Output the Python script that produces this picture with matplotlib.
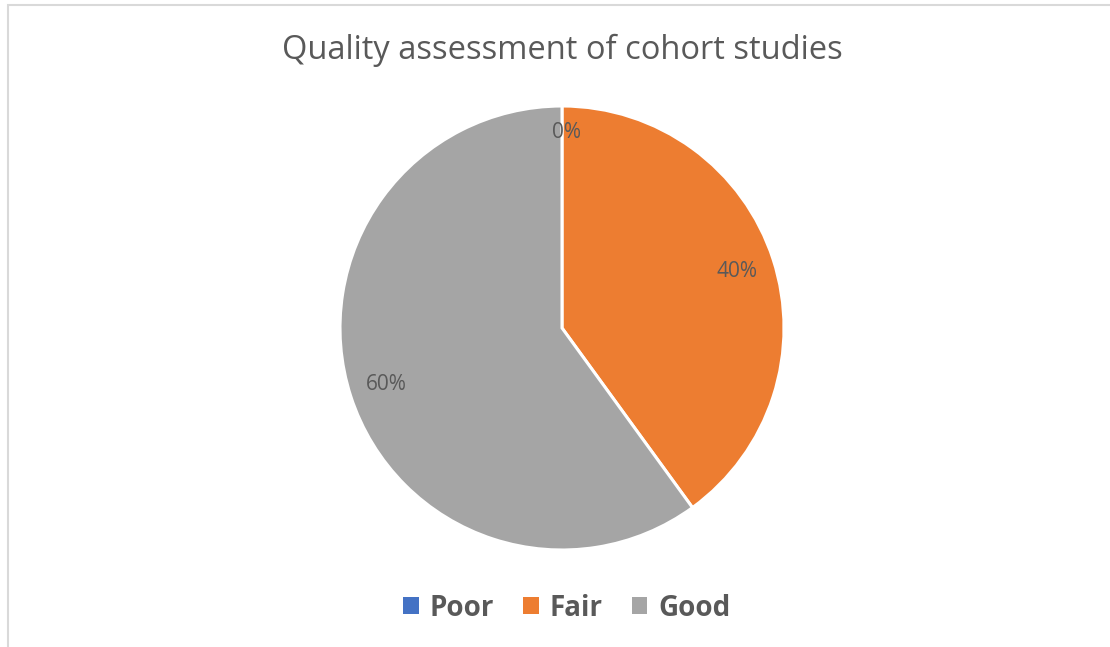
"""Pie chart: quality assessment of cohort studies."""

import matplotlib.pyplot as plt
from matplotlib.patches import Patch, Rectangle

categories = ["Poor", "Fair", "Good"]
shares = [0, 40, 60]
colors = ["#4472C4", "#ED7D31", "#A5A5A5"]

TXT = "#595959"
W, H = 1110, 647

plt.rcParams["font.family"] = ["Open Sans", "DejaVu Sans"]

fig = plt.figure(figsize=(W / 100, H / 100), dpi=100)

# pie centred at (562, 328) px, radius 222 px
cx, cy, r = 562, 328, 222
ax = fig.add_axes([(cx - r) / W, (H - cy - r) / H, 2 * r / W, 2 * r / H])
wedges, texts, autotexts = ax.pie(
    shares, colors=colors, startangle=90, counterclock=False,
    autopct="%1.0f%%", pctdistance=0.83,
    wedgeprops=dict(edgecolor="white", linewidth=2.2, clip_on=False),
    textprops=dict(color=TXT, fontsize=15),
)
ax.set_xlim(-1, 1)
ax.set_ylim(-1, 1)
ax.set_aspect("equal")
# the zero slice label sits a bit higher in the original
x0, y0 = autotexts[0].get_position()
autotexts[0].set_position((x0 + 0.02, y0 + 0.05))

fig.text(cx / W, 1 - 50 / H, "Quality assessment of cohort studies",
         ha="center", va="center", fontsize=23.5, color=TXT)

handles = [Patch(facecolor=c, edgecolor="none", label=n)
           for c, n in zip(colors, categories)]
leg = fig.legend(handles=handles, loc="center", bbox_to_anchor=(567 / W, 1 - 608 / H),
                 ncol=3, frameon=False, handlelength=0.55, handleheight=0.55,
                 handletextpad=0.4, columnspacing=1.05,
                 prop=dict(weight="bold", size=20))
for t in leg.get_texts():
    t.set_color(TXT)

# light chart-area border
fig.add_artist(Rectangle((8 / W, -0.1), 1.2, 1.1 - 5 / H, transform=fig.transFigure,
                         fill=False, edgecolor="#d9d9d9", lw=1.5))

fig.savefig("out.png", dpi=100)
